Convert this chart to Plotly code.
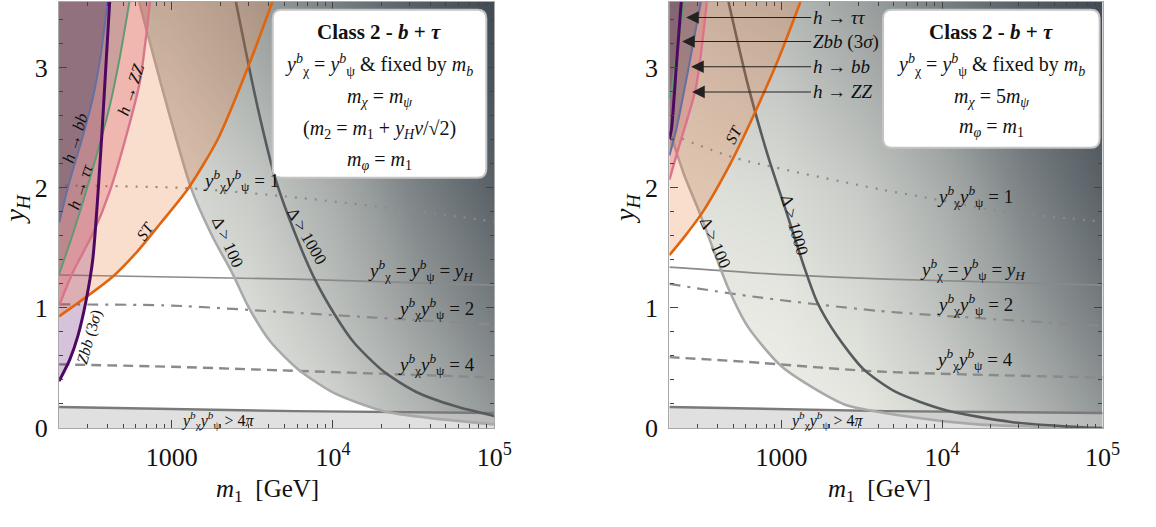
import math
import plotly.graph_objects as go

W, H = 1156, 527
FONT = "Liberation Serif"
X_MIN, X_MAX = 200.0, 1.0e5
Y_MIN, Y_MAX = 0.0, 3.55

# background shading (0 = light, 1 = dark) of the fine-tuning region
GRAD_M = [200, 1000, 3162, 10000, 31623, 100000]
GRAD_Y = [0.0, 1.0, 2.0, 3.0, 3.55]
GRAD_SHADE = [
    [0.00, 0.02, 0.07, 0.18, 0.36, 0.55],
    [0.05, 0.08, 0.16, 0.33, 0.54, 0.72],
    [0.12, 0.16, 0.27, 0.45, 0.68, 0.86],
    [0.22, 0.30, 0.44, 0.62, 0.82, 0.95],
    [0.28, 0.37, 0.52, 0.70, 0.87, 0.98],
]

# ---------------- left panel (m_chi = m_psi) ----------------
L_BB_M = [200, 233, 278, 324, 363, 400]
L_BB_Y = [1.71, 2.06, 2.41, 2.75, 3.11, 3.55]
L_TT_M = [200, 244, 294, 348, 412, 475, 546]
L_TT_Y = [1.28, 1.62, 1.97, 2.31, 2.68, 3.08, 3.55]
L_ZBB_M = [200, 233, 262, 294, 324, 368, 412]
L_ZBB_Y = [0.39, 0.57, 0.77, 1.06, 1.41, 2.43, 3.55]
L_ZZ_M = [200, 244, 324, 412, 531, 637, 733]
L_ZZ_Y = [1.02, 1.30, 1.62, 1.97, 2.47, 2.90, 3.55]
L_ST_M = [200, 294, 430, 611, 845, 1271, 1937, 3000, 4207]
L_ST_Y = [0.93, 1.09, 1.26, 1.47, 1.70, 2.00, 2.41, 3.02, 3.55]
L_D100_M = [628, 906, 1325, 1782, 2395, 2960, 4090, 6070, 10200, 20640, 41800, 100000]
L_D100_Y = [3.55, 2.75, 1.99, 1.60, 1.28, 1.02, 0.72, 0.49, 0.29, 0.14, 0.08, 0.03]
L_D1000_M = [2500, 3000, 3606, 4385, 5820, 7710, 10200, 13530, 20640, 32880, 57700, 100000]
L_D1000_Y = [3.55, 3.02, 2.53, 2.08, 1.62, 1.24, 0.95, 0.71, 0.47, 0.30, 0.18, 0.10]
L_Y1_M = [219, 1184, 5040, 23770, 100000]
L_Y1_Y = [2.02, 2.00, 1.93, 1.83, 1.72]
L_YH_M = [200, 5820, 100000]
L_YH_Y = [1.275, 1.24, 1.19]
L_Y2_M = [200, 1000, 4385, 18000, 100000]
L_Y2_Y = [1.03, 1.02, 0.97, 0.92, 0.86]
L_Y4_M = [200, 1000, 2880, 100000]
L_Y4_Y = [0.53, 0.51, 0.49, 0.42]
L_4PI_M = [200, 5820, 100000]
L_4PI_Y = [0.175, 0.14, 0.125]

# ---------------- right panel (m_chi = 5 m_psi) ----------------
R_BB_M = [200, 221, 265, 314]
R_BB_Y = [2.27, 2.49, 3.02, 3.55]
R_TT_M = [200, 206, 224, 247]
R_TT_Y = [2.75, 2.81, 3.16, 3.55]
R_ZBB_M = [200, 206, 221, 237]
R_ZBB_Y = [2.41, 2.49, 3.02, 3.55]
R_ZZ_M = [200, 230, 293, 342]
R_ZZ_Y = [2.07, 2.35, 2.84, 3.55]
R_ST_M = [200, 247, 319, 487, 646, 946, 1310]
R_ST_Y = [1.44, 1.59, 1.79, 2.22, 2.56, 3.06, 3.55]
R_D100_M = [200, 247, 305, 467, 619, 986, 1594, 2542, 6545, 16630, 42800, 100000]
R_D100_Y = [2.48, 2.11, 1.81, 1.16, 0.84, 0.52, 0.33, 0.19, 0.09, 0.03, 0.01, 0.0]
R_D1000_M = [467, 619, 821, 1089, 1384, 1665, 2208, 3236, 5150, 10440, 26900, 78700, 100000]
R_D1000_Y = [3.55, 2.85, 2.27, 1.77, 1.34, 1.05, 0.77, 0.49, 0.30, 0.15, 0.05, 0.004, 0.0]
R_Y1_M = [240, 515, 4055, 8690, 22060, 100000]
R_Y1_Y = [2.41, 2.25, 1.99, 1.91, 1.81, 1.72]
R_YH_M = [200, 946, 4480, 100000]
R_YH_Y = [1.34, 1.28, 1.24, 1.19]
R_Y2_M = [200, 619, 4055, 100000]
R_Y2_Y = [1.20, 1.10, 0.975, 0.85]
R_Y4_M = [200, 619, 4055, 100000]
R_Y4_Y = [0.59, 0.55, 0.47, 0.42]
R_4PI_M = [200, 4480, 100000]
R_4PI_Y = [0.175, 0.14, 0.125]

# arrow targets in right panel (label, m1, yH)
R_ARROWS = [("<i>h</i> → <i>ττ</i>", 254, 3.42),
            ("<i>Zbb</i> (3<i>σ</i>)", 240, 3.22),
            ("<i>h</i> → <i>bb</i>", 273, 3.01),
            ("<i>h</i> → <i>ZZ</i>", 277, 2.80)]

# ---------------- styles ----------------
C_BB, C_TT, C_ZBB, C_ZZ, C_ST = "#6370a0", "#5f9a72", "#4d0860", "#d9748a", "#e0650f"
F_BB = "rgba(60,70,95,0.34)"
F_TT = "rgba(100,90,100,0.25)"
F_ZBB = "rgba(100,20,120,0.26)"
F_ZZ = "rgba(215,95,105,0.30)"
F_ST = "rgba(232,120,55,0.25)"
C_D100, C_D1000 = "#a9a9a9", "#575b5e"
C_REF = "#8a8a8a"

XL, XR = X_MIN / 1.6, X_MAX * 1.6
YB, YT = Y_MIN - 0.5, Y_MAX + 0.5

fig = go.Figure()


def sc(ax, xs, ys, **kw):
    fig.add_trace(go.Scatter(x=xs, y=ys, xaxis=ax[0], yaxis=ax[1], hoverinfo="skip",
                             showlegend=False, **kw))


def line(ax, xs, ys, color, width, dash="solid"):
    sc(ax, xs, ys, mode="lines",
       line=dict(color=color, width=width, dash=dash, shape="spline", smoothing=0.7))


def fill_left(ax, xs, ys, color):
    px = list(xs) + [xs[-1], XL, XL]
    py = list(ys) + [YT, YT, ys[0]]
    sc(ax, px, py, mode="lines", fill="toself", fillcolor=color,
       line=dict(width=0, shape="spline", smoothing=0.7))


def mask_below(ax, xs, ys):
    px = list(xs) + [XR, XR, XL, XL]
    py = list(ys) + [ys[-1], YB, YB]
    py.append(YT if xs[0] > X_MIN else ys[0])
    sc(ax, px, py, mode="lines", fill="toself", fillcolor="#ffffff",
       line=dict(width=0, shape="spline", smoothing=0.7))


def band_below(ax, xs, ys, color):
    px = list(xs) + [XR, XR, XL, XL]
    py = list(ys) + [ys[-1], YB, YB, ys[0]]
    sc(ax, px, py, mode="lines", fill="toself", fillcolor=color, line=dict(width=0))


def panel(ax, d):
    fig.add_trace(go.Heatmap(x=GRAD_M, y=GRAD_Y, z=GRAD_SHADE, zsmooth="best", zmin=0, zmax=1,
                             colorscale=[[0, "#f3f4ec"], [0.5, "#a0a5a4"], [1, "#3e4750"]],
                             showscale=False, hoverinfo="skip", xaxis=ax[0], yaxis=ax[1]))
    mask_below(ax, d["D100"][0], d["D100"][1])
    band_below(ax, d["4PI"][0], d["4PI"][1], "rgba(205,205,205,0.62)")
    line(ax, *d["Y1"], C_REF, 2.2, "2px,8px")
    line(ax, *d["YH"], C_REF, 1.6)
    line(ax, *d["Y2"], C_REF, 2.2, "11px,7px,3px,7px")
    line(ax, *d["Y4"], C_REF, 2.4, "10px,6px")
    line(ax, *d["4PI"], "#7a7a7a", 2.4)
    line(ax, *d["D100"], C_D100, 2.6)
    line(ax, *d["D1000"], C_D1000, 2.6)
    fill_left(ax, *d["ZBB"], F_ZBB)
    fill_left(ax, *d["ST"], F_ST)
    fill_left(ax, *d["ZZ"], F_ZZ)
    fill_left(ax, *d["TT"], F_TT)
    fill_left(ax, *d["BB"], F_BB)
    line(ax, *d["ST"], C_ST, 2.6)
    line(ax, *d["ZZ"], C_ZZ, 2.4)
    line(ax, *d["TT"], C_TT, 2.0)
    line(ax, *d["BB"], C_BB, 2.0)
    line(ax, *d["ZBB"], C_ZBB, 3.0)


panel(("x", "y"), {"BB": (L_BB_M, L_BB_Y), "TT": (L_TT_M, L_TT_Y), "ZBB": (L_ZBB_M, L_ZBB_Y),
                   "ZZ": (L_ZZ_M, L_ZZ_Y), "ST": (L_ST_M, L_ST_Y), "D100": (L_D100_M, L_D100_Y),
                   "D1000": (L_D1000_M, L_D1000_Y), "Y1": (L_Y1_M, L_Y1_Y), "YH": (L_YH_M, L_YH_Y),
                   "Y2": (L_Y2_M, L_Y2_Y), "Y4": (L_Y4_M, L_Y4_Y), "4PI": (L_4PI_M, L_4PI_Y)})
panel(("x2", "y2"), {"BB": (R_BB_M, R_BB_Y), "TT": (R_TT_M, R_TT_Y), "ZBB": (R_ZBB_M, R_ZBB_Y),
                     "ZZ": (R_ZZ_M, R_ZZ_Y), "ST": (R_ST_M, R_ST_Y), "D100": (R_D100_M, R_D100_Y),
                     "D1000": (R_D1000_M, R_D1000_Y), "Y1": (R_Y1_M, R_Y1_Y), "YH": (R_YH_M, R_YH_Y),
                     "Y2": (R_Y2_M, R_Y2_Y), "Y4": (R_Y4_M, R_Y4_Y), "4PI": (R_4PI_M, R_4PI_Y)})

# ---------------- annotations ----------------
ann = []


def px2p(px, py):
    return px / W, 1 - py / H


def text(px, py, s, size=14, angle=0, xanchor="center"):
    x, y = px2p(px, py)
    ann.append(dict(x=x, y=y, xref="paper", yref="paper", text=s, showarrow=False,
                    textangle=angle, xanchor=xanchor, yanchor="middle",
                    font=dict(family=FONT, size=size, color="#111")))


YY = "<i>y</i><sup><i>b</i></sup><sub>χ</sub><i>y</i><sup><i>b</i></sup><sub>ψ</sub>"
YEQ = "<i>y</i><sup><i>b</i></sup><sub>χ</sub> = <i>y</i><sup><i>b</i></sup><sub>ψ</sub> = <i>y<sub>H</sub></i>"

# left labels
text(77, 142, "<i>h</i> → <i>bb</i>", 17, -73)
text(82, 192, "<i>h</i> → <i>ττ</i>", 17, -72)
text(133, 92, "<i>h</i> → <i>ZZ</i>", 17, -72)
text(147, 238, "<i>ST</i>", 16, -55)
text(91, 347, "<i>Zbb</i> (3<i>σ</i>)", 16, -74)
text(231, 250, "Δ > 100", 17, 66)
text(312, 243, "Δ > 1000", 17, 60)
text(245, 186, YY + " = 1", 19)
text(428, 278, YEQ, 19)
text(443, 318, YY + " = 2", 19)
text(443, 375, YY + " = 4", 19)
text(221, 432, YY + " > 4<i>π</i>", 16)

# right labels
text(745, 138, "<i>ST</i>", 16, -62)
text(726, 250, "Δ > 100", 17, 66)
text(807, 232, "Δ > 1000", 17, 74)
text(990, 202, YY + " = 1", 19)
text(988, 277, YEQ, 19)
text(990, 313, YY + " = 2", 19)
text(990, 370, YY + " = 4", 19)
text(840, 432, YY + " > 4<i>π</i>", 16)

# arrows with labels (right panel); label starts at TEXT_X pixels
R_X0, R_X1 = 680, 1120
TEXT_X = 822


def m2px(m):
    return R_X0 + (math.log10(m) - math.log10(X_MIN)) / (math.log10(X_MAX) - math.log10(X_MIN)) * (R_X1 - R_X0)


for lab, m, yv in R_ARROWS:
    ann.append(dict(x=math.log10(m), y=yv, xref="x2", yref="y2", text=lab, showarrow=True,
                    xanchor="left", ax=TEXT_X - m2px(m), ay=0,
                    font=dict(family=FONT, size=19, color="#111"),
                    arrowhead=2, arrowsize=2.3, arrowwidth=1.1, arrowcolor="#222", standoff=0))

# legend boxes
shapes = []


def rbox(x0, y0, x1, y1, r=9):
    X0, Y0 = px2p(x0, y0)
    X1, Y1 = px2p(x1, y1)
    rx, ry = r / W, r / H
    p = (f"M {X0+rx},{Y0} L {X1-rx},{Y0} Q {X1},{Y0} {X1},{Y0-ry} "
         f"L {X1},{Y1+ry} Q {X1},{Y1} {X1-rx},{Y1} L {X0+rx},{Y1} Q {X0},{Y1} {X0},{Y1+ry} "
         f"L {X0},{Y0-ry} Q {X0},{Y0} {X0+rx},{Y0} Z")
    shapes.append(dict(type="path", path=p, xref="paper", yref="paper",
                       fillcolor="white", line=dict(color="#c4c4c4", width=2), layer="above"))


rbox(277, 10, 494, 183)
rbox(897, 10, 1117, 152)

LEG_L = ["<b>Class 2 - <i>b</i> + <i>τ</i></b>",
         "<i>y</i><sup><i>b</i></sup><sub>χ</sub> = <i>y</i><sup><i>b</i></sup><sub>ψ</sub> &amp; fixed by <i>m<sub>b</sub></i>",
         "<i>m<sub>χ</sub></i> = <i>m<sub>ψ</sub></i>",
         "(<i>m</i><sub>2</sub> = <i>m</i><sub>1</sub> + <i>y<sub>H</sub>v</i>/√2)",
         "<i>m<sub>φ</sub></i> = <i>m</i><sub>1</sub>"]
LEG_R = ["<b>Class 2 - <i>b</i> + <i>τ</i></b>",
         "<i>y</i><sup><i>b</i></sup><sub>χ</sub> = <i>y</i><sup><i>b</i></sup><sub>ψ</sub> &amp; fixed by <i>m<sub>b</sub></i>",
         "<i>m<sub>χ</sub></i> = 5<i>m<sub>ψ</sub></i>",
         "<i>m<sub>φ</sub></i> = <i>m</i><sub>1</sub>"]
for i, (s, py) in enumerate(zip(LEG_L, [33, 67, 100, 133, 165])):
    text(385, py, s, 21 if i == 0 else 20)
for i, (s, py) in enumerate(zip(LEG_R, [33, 67, 100, 131])):
    text(1007, py, s, 21 if i == 0 else 20)

# axis titles
text(17, 215, "<i>y<sub>H</sub></i>", 28, -90)
text(637, 215, "<i>y<sub>H</sub></i>", 28, -90)
text(272, 505, "<i>m</i><sub>1</sub>  [GeV]", 25)
text(893, 505, "<i>m</i><sub>1</sub>  [GeV]", 25)

XAX = dict(type="log", range=[math.log10(X_MIN), math.log10(X_MAX)],
           tickvals=[1000, 10000, 100000], ticktext=["1000", "10<sup>4</sup>", "10<sup>5</sup>"],
           ticks="inside", ticklen=8, tickcolor="#444", showline=True, linecolor="#a8a8a8",
           linewidth=1.2, mirror="allticks", showgrid=False, zeroline=False,
           tickfont=dict(family=FONT, size=26, color="#111"), ticklabelstandoff=6,
           minor=dict(ticks="inside", ticklen=4, tickcolor="#444", dtick="D1", showgrid=False))
YAX = dict(range=[Y_MIN, Y_MAX], tickvals=[0, 1, 2, 3], ticks="inside", ticklen=8,
           tickcolor="#444", showline=True, linecolor="#a8a8a8", linewidth=1.2,
           mirror="allticks", showgrid=False, zeroline=False,
           tickfont=dict(family=FONT, size=26, color="#111"), ticklabelstandoff=5,
           minor=dict(ticks="inside", ticklen=4, tickcolor="#444", dtick=0.2, showgrid=False))

ydom = [1 - 440.5 / H, 1 - 2 / H]
fig.update_layout(
    width=W, height=H, margin=dict(l=0, r=0, t=0, b=0),
    paper_bgcolor="white", plot_bgcolor="white", showlegend=False,
    xaxis=dict(XAX, domain=[60 / W, 502 / W], anchor="y"),
    yaxis=dict(YAX, domain=ydom, anchor="x"),
    xaxis2=dict(XAX, domain=[680 / W, 1120 / W], anchor="y2"),
    yaxis2=dict(YAX, domain=ydom, anchor="x2"),
    annotations=ann, shapes=shapes,
)

fig.write_html("out.html")
